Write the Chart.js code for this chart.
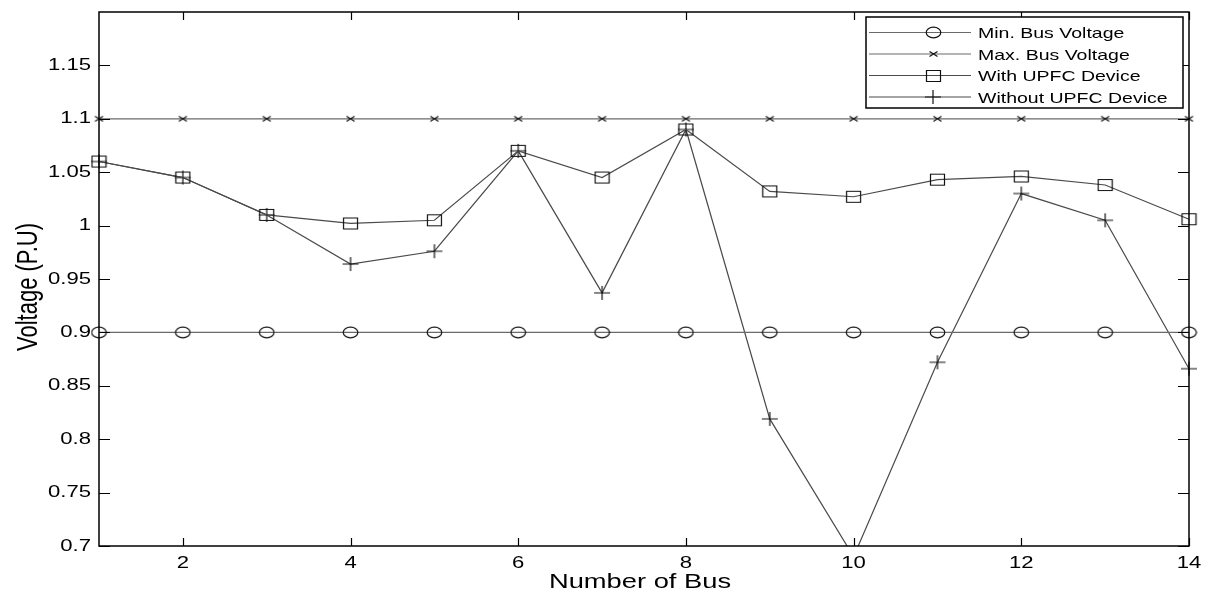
<!DOCTYPE html>
<html>
<head>
<meta charset="utf-8">
<script src="https://cdn.jsdelivr.net/npm/chart.js@4.4.1/dist/chart.umd.min.js"></script>
<style>
  html, body { margin: 0; padding: 0; background: #fff; }
  #wrap { width: 1208px; height: 594px; }
</style>
</head>
<body>
<div id="wrap"><canvas id="voltChart" width="1208" height="594"></canvas></div>
<script>
const busNumbers = [1, 2, 3, 4, 5, 6, 7, 8, 9, 10, 11, 12, 13, 14];
const minVoltage = [0.9, 0.9, 0.9, 0.9, 0.9, 0.9, 0.9, 0.9, 0.9, 0.9, 0.9, 0.9, 0.9, 0.9];
const maxVoltage = [1.1, 1.1, 1.1, 1.1, 1.1, 1.1, 1.1, 1.1, 1.1, 1.1, 1.1, 1.1, 1.1, 1.1];
const withUpfc = [1.06, 1.045, 1.01, 1.002, 1.005, 1.07, 1.045, 1.09, 1.032, 1.027, 1.043, 1.046, 1.038, 1.006];
const withoutUpfc = [1.06, 1.045, 1.01, 0.964, 0.976, 1.07, 0.937, 1.09, 0.819, 0.69, 0.872, 1.03, 1.005, 0.866];

const xTicks = [2, 4, 6, 8, 10, 12, 14];
const yTicks = [0.7, 0.75, 0.8, 0.85, 0.9, 0.95, 1, 1.05, 1.1, 1.15];

const seriesNames = ["Min. Bus Voltage", "Max. Bus Voltage", "With UPFC Device", "Without UPFC Device"];

const font = "'Liberation Sans', Arial, Helvetica, sans-serif";
const stretch = 1.3; // the picture is a bit wider than tall
const toPoints = (vals) => vals.map((v, i) => ({ x: busNumbers[i], y: v }));

// small canvases used as markers (ellipse, box, x, plus)
function marker(w, h, draw) {
  const c = document.createElement("canvas");
  c.width = w; c.height = h;
  const g = c.getContext("2d");
  g.strokeStyle = "#111";
  g.lineWidth = 1.2;
  g.beginPath();
  draw(g, w, h);
  g.stroke();
  return c;
}
const ovalMark = marker(17, 13, (g, w, h) => g.ellipse(w / 2, h / 2, 7.3, 5.3, 0, 0, Math.PI * 2));
const boxMark = marker(17, 14, (g) => g.rect(1.5, 1.5, 14, 11));
const xMark = marker(11, 8, (g) => { g.moveTo(1.5, 1.5); g.lineTo(9.5, 6.5); g.moveTo(9.5, 1.5); g.lineTo(1.5, 6.5); });
const plusMark = marker(18, 16, (g) => { g.moveTo(1, 8); g.lineTo(17, 8); g.moveTo(9, 1); g.lineTo(9, 15); });

const markerStyles = [
  { img: ovalMark, line: "#6a6a6a" },
  { img: xMark, line: "#6a6a6a" },
  { img: boxMark, line: "#4a4a4a" },
  { img: plusMark, line: "#4a4a4a" },
];

function makeDataset(i, vals) {
  const m = markerStyles[i];
  return {
    label: seriesNames[i],
    data: toPoints(vals),
    borderColor: m.line,
    borderWidth: 1.2,
    pointStyle: m.img,
    pointRadius: 6,
    tension: 0,
    clip: { left: 20, right: 20, top: 20, bottom: 0 },
  };
}

function stretchedText(ctx, text, x, y, align, size) {
  ctx.save();
  ctx.font = size + "px " + font;
  const w = ctx.measureText(text).width * stretch;
  let left = x;
  if (align === "right") left = x - w;
  else if (align === "center") left = x - w / 2;
  ctx.translate(left, y);
  ctx.scale(stretch, 1);
  ctx.textAlign = "left";
  ctx.fillText(text, 0, 0);
  ctx.restore();
}

// box, inward ticks, labels and a MATLAB style legend
const axesBox = {
  id: "axesBox",
  afterDraw(chart) {
    const { ctx, chartArea: a, scales } = chart;
    ctx.save();
    ctx.strokeStyle = "#000";
    ctx.lineWidth = 1.5;
    ctx.strokeRect(a.left, a.top, a.right - a.left, a.bottom - a.top);
    ctx.lineWidth = 1.2;
    ctx.beginPath();
    scales.y.ticks.forEach((t) => {
      const y = Math.round(scales.y.getPixelForValue(t.value)) + 0.5;
      ctx.moveTo(a.left, y); ctx.lineTo(a.left + 11, y);
      ctx.moveTo(a.right, y); ctx.lineTo(a.right - 11, y);
    });
    scales.x.ticks.forEach((t) => {
      const x = Math.round(scales.x.getPixelForValue(t.value)) + 0.5;
      ctx.moveTo(x, a.bottom); ctx.lineTo(x, a.bottom - 8);
      ctx.moveTo(x, a.top); ctx.lineTo(x, a.top + 8);
    });
    ctx.stroke();

    ctx.fillStyle = "#000";
    ctx.textBaseline = "middle";
    scales.y.ticks.forEach((t) => {
      const y = scales.y.getPixelForValue(t.value);
      stretchedText(ctx, String(parseFloat(t.value.toFixed(2))), 91, y, "right", 17);
    });
    scales.x.ticks.forEach((t) => {
      const x = scales.x.getPixelForValue(t.value);
      stretchedText(ctx, String(t.value), x, 563, "center", 17);
    });
    ctx.textBaseline = "alphabetic";
    stretchedText(ctx, "Number of Bus", 640, 588, "center", 21);

    // y title, rotated, stretched across the screen x direction
    ctx.save();
    ctx.font = "22px " + font;
    ctx.translate(37, 287);
    ctx.rotate(-Math.PI / 2);
    ctx.scale(1, stretch);
    ctx.textAlign = "center";
    ctx.fillText("Voltage (P.U)", 0, 0);
    ctx.restore();

    // legend
    const lx = 866, ly = 17, lw = 317, lh = 91;
    ctx.fillStyle = "#fff";
    ctx.fillRect(lx, ly, lw, lh);
    ctx.strokeStyle = "#000";
    ctx.lineWidth = 1.5;
    ctx.strokeRect(lx, ly, lw, lh);
    chart.data.datasets.forEach((ds, i) => {
      const y = ly + 15.5 + i * 21.5;
      ctx.strokeStyle = ds.borderColor;
      ctx.lineWidth = 1.2;
      ctx.beginPath();
      ctx.moveTo(lx + 3, y); ctx.lineTo(lx + 105, y);
      ctx.stroke();
      ctx.drawImage(ds.pointStyle, Math.round(933 - ds.pointStyle.width / 2), Math.round(y - ds.pointStyle.height / 2));
      ctx.fillStyle = "#000";
      ctx.textBaseline = "middle";
      stretchedText(ctx, ds.label, 978, y + 1.5, "left", 15);
    });
    ctx.restore();
  },
};

new Chart(document.getElementById("voltChart"), {
  type: "line",
  data: {
    datasets: [
      makeDataset(0, minVoltage),
      makeDataset(1, maxVoltage),
      makeDataset(2, withUpfc),
      makeDataset(3, withoutUpfc),
    ],
  },
  options: {
    responsive: false,
    animation: false,
    layout: { padding: { top: 12, right: 19, left: 0, bottom: 0 } },
    plugins: { legend: { display: false }, tooltip: { enabled: false } },
    scales: {
      x: {
        type: "linear",
        min: 1,
        max: 14,
        grid: { display: false, drawTicks: false },
        border: { display: false },
        afterBuildTicks: (s) => { s.ticks = xTicks.map((v) => ({ value: v })); },
        afterFit: (s) => { s.height = 48; },
        ticks: { display: false },
      },
      y: {
        min: 0.7,
        max: 1.2,
        grid: { display: false, drawTicks: false },
        border: { display: false },
        afterBuildTicks: (s) => { s.ticks = yTicks.map((v) => ({ value: v })); },
        afterFit: (s) => { s.width = 99; },
        ticks: { display: false },
      },
    },
  },
  plugins: [axesBox],
});
</script>
</body>
</html>
